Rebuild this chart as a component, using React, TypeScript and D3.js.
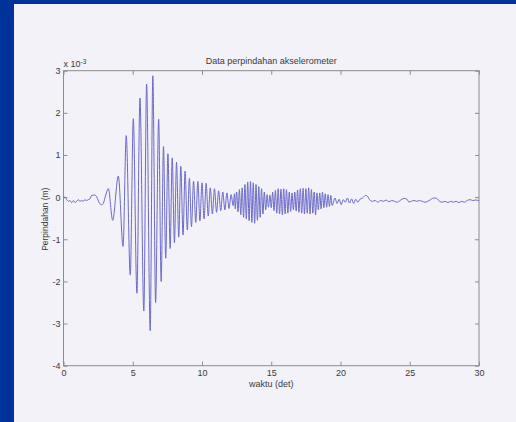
import React, { useEffect, useRef } from "react";
import * as d3 from "d3";

// displacement readings, [time (det), value x 1e-3 m]
const xTicks = [0, 5, 10, 15, 20, 25, 30];
const yTicks = [-4, -3, -2, -1, 0, 1, 2, 3];

const preEvent: [number, number][] = [
  [0, 0.0], [0.1, 0.0], [0.23, -0.06], [0.35, -0.1], [0.47, -0.08], [0.59, -0.13],
  [0.71, -0.08], [0.83, -0.13], [0.95, -0.1], [1.07, -0.06], [1.19, -0.1], [1.31, -0.08],
  [1.43, -0.1], [1.55, -0.06], [1.67, -0.08], [1.79, -0.06], [1.91, -0.04], [2.03, 0.04],
  [2.27, 0.05], [2.39, 0.01], [2.59, -0.14], [2.75, -0.18], [2.87, -0.15], [3.05, 0.05],
  [3.24, 0.2],
];

const mainShock: [number, number][] = [
  [3.55, -0.55], [3.96, 0.5], [4.3, -1.17], [4.53, 1.46], [4.82, -1.85], [5.04, 1.86],
  [5.3, -2.28], [5.52, 2.35], [5.8, -2.7], [6.0, 2.68], [6.26, -3.17], [6.45, 2.88],
  [6.65, -2.5], [6.87, 1.85], [7.05, -2.0], [7.22, 1.2], [7.38, -1.45], [7.54, 1.03],
  [7.7, -1.22], [7.85, 0.93], [8.01, -1.08], [8.16, 0.83], [8.32, -0.95], [8.47, 0.73],
  [8.63, -0.9], [8.78, 0.62], [8.94, -0.78], [9.09, 0.45], [9.24, -0.7], [9.39, 0.38],
  [9.55, -0.6], [9.7, 0.37], [9.85, -0.56], [10.0, 0.34], [10.15, -0.52], [10.3, 0.33],
  [10.45, -0.45], [10.6, 0.22], [10.75, -0.4], [10.9, 0.2], [11.05, -0.36], [11.2, 0.15],
  [11.35, -0.32], [11.5, 0.12], [11.65, -0.3], [11.8, 0.1], [11.95, -0.27], [12.1, 0.06],
  [12.25, -0.2],
];

const coda: [number, number][] = [
  [12.35, 0.08], [12.4, -0.28], [12.5, 0.12], [12.6, -0.35], [12.7, 0.18], [12.8, -0.42],
  [12.9, 0.22], [13.0, -0.48], [13.1, 0.3], [13.2, -0.52], [13.3, 0.36], [13.4, -0.56],
  [13.5, 0.37], [13.6, -0.6], [13.7, 0.34], [13.8, -0.62], [13.9, 0.3], [14.0, -0.55],
  [14.1, 0.25], [14.2, -0.48], [14.3, 0.2], [14.4, -0.4], [14.5, 0.12], [14.6, -0.3],
  [14.7, 0.06], [14.8, -0.24], [14.9, 0.05], [15.0, -0.25], [15.1, 0.12], [15.2, -0.32],
  [15.3, 0.16], [15.4, -0.38], [15.5, 0.2], [15.6, -0.4], [15.7, 0.19], [15.8, -0.42],
  [15.9, 0.2], [16.0, -0.4], [16.1, 0.18], [16.2, -0.38], [16.3, 0.12], [16.4, -0.34],
  [16.5, 0.1], [16.6, -0.3], [16.7, 0.12], [16.8, -0.33], [16.9, 0.17], [17.0, -0.36],
  [17.1, 0.2], [17.2, -0.38], [17.3, 0.21], [17.4, -0.4], [17.5, 0.2], [17.6, -0.38],
  [17.7, 0.22], [17.8, -0.4], [17.9, 0.18], [18.0, -0.38], [18.1, 0.12], [18.2, -0.42],
  [18.3, 0.1], [18.4, -0.3], [18.5, 0.1], [18.6, -0.28], [18.7, 0.12], [18.8, -0.25],
  [18.9, 0.08], [19.0, -0.24], [19.1, 0.06], [19.2, -0.22], [19.3, 0.04], [19.4, -0.2],
];

const tail: [number, number][] = [
  [19.6, -0.02], [19.75, -0.15], [19.9, -0.05], [20.05, -0.18], [20.2, -0.06], [20.35, -0.12],
  [20.5, -0.02], [20.65, -0.14], [20.8, -0.04], [20.95, -0.15], [21.1, -0.05], [21.25, -0.12],
  [21.4, -0.05], [21.6, -0.02], [21.8, 0.04], [21.95, 0.02], [22.1, -0.06], [22.3, -0.1],
  [22.5, -0.08], [22.7, -0.12], [22.9, -0.08], [23.1, -0.1], [23.3, -0.07], [23.5, -0.11],
  [23.7, -0.08], [23.9, -0.1], [24.1, -0.12], [24.3, -0.08], [24.6, -0.03], [24.8, -0.05],
  [24.95, -0.12], [25.1, -0.1], [25.3, -0.08], [25.5, -0.1], [25.7, -0.08], [25.9, -0.1],
  [26.1, -0.12], [26.3, -0.1], [26.5, -0.06], [26.75, -0.02], [26.95, -0.03], [27.15, -0.1],
  [27.35, -0.12], [27.55, -0.1], [27.75, -0.13], [27.95, -0.1], [28.15, -0.12], [28.35, -0.1],
  [28.55, -0.13], [28.75, -0.1], [28.95, -0.12], [29.15, -0.08], [29.35, -0.06], [29.55, -0.08],
  [29.75, -0.07], [30, -0.08],
];

const FONT = "'Liberation Sans', Arial, sans-serif";
const TEXT = "#3a3a3a";
const AXIS = "#8c8c8c";

const App = () => {
  const svgRef = useRef<SVGSVGElement>(null);

  useEffect(() => {
    const svg = d3.select(svgRef.current);
    svg.selectAll("*").remove();

    // slide background + scanned figure page
    svg.append("rect").attr("width", 516).attr("height", 422).attr("fill", "#003399");
    svg.append("rect").attr("x", 14).attr("y", 4).attr("width", 502).attr("height", 418).attr("fill", "#f4f2f9");

    const left = 63.5, right = 479, top = 70.7, bottom = 365.7;
    const x = d3.scaleLinear().domain([0, 30]).range([left, right]);
    const y = d3.scaleLinear().domain([-4, 3]).range([bottom, top]);
    const fmt = (d) => String(d); // MATLAB style plain ints with hyphen minus

    const styleAxis = (g) => {
      g.select(".domain").remove();
      g.selectAll("line").attr("stroke", AXIS);
      g.selectAll("text").attr("fill", TEXT).style("font-family", FONT).style("font-size", "9px");
    };

    svg.append("g")
      .attr("transform", `translate(0,${bottom})`)
      .call(d3.axisBottom(x).tickValues(xTicks).tickFormat(fmt).tickSizeInner(-4).tickSizeOuter(0).tickPadding(4))
      .call(styleAxis);
    svg.append("g")
      .attr("transform", `translate(0,${top})`)
      .call(d3.axisTop(x).tickValues(xTicks).tickSizeInner(-4).tickSizeOuter(0).tickFormat(() => ""))
      .call(styleAxis);
    svg.append("g")
      .attr("transform", `translate(${left},0)`)
      .call(d3.axisLeft(y).tickValues(yTicks).tickFormat(fmt).tickSizeInner(-4).tickSizeOuter(0).tickPadding(3))
      .call(styleAxis);
    svg.append("g")
      .attr("transform", `translate(${right},0)`)
      .call(d3.axisRight(y).tickValues(yTicks).tickSizeInner(-4).tickSizeOuter(0).tickFormat(() => ""))
      .call(styleAxis);

    // axes box
    svg.append("rect")
      .attr("x", left).attr("y", top)
      .attr("width", right - left).attr("height", bottom - top)
      .attr("fill", "none").attr("stroke", AXIS).attr("stroke-width", 1);

    // signal
    const data = [...preEvent, ...mainShock, ...coda, ...tail];
    const line = d3.line<[number, number]>()
      .x((d) => x(d[0]))
      .y((d) => y(d[1]))
      .curve(d3.curveMonotoneX);
    svg.append("path")
      .attr("d", line(data))
      .attr("fill", "none")
      .attr("stroke", "#6a6ac8")
      .attr("stroke-width", 1);

    // texts
    svg.append("text")
      .attr("x", (left + right) / 2).attr("y", 64)
      .attr("text-anchor", "middle")
      .attr("fill", TEXT).style("font-family", FONT).style("font-size", "9px")
      .text("Data perpindahan akselerometer");

    const expo = svg.append("text")
      .attr("x", left).attr("y", 67)
      .attr("fill", TEXT).style("font-family", FONT).style("font-size", "9px");
    expo.append("tspan").text("x 10");
    expo.append("tspan").attr("dy", -3.5).style("font-size", "6.5px").text("-3");

    svg.append("text")
      .attr("x", (left + right) / 2).attr("y", 387)
      .attr("text-anchor", "middle")
      .attr("fill", TEXT).style("font-family", FONT).style("font-size", "9px")
      .text("waktu (det)");

    svg.append("text")
      .attr("transform", `translate(48,${(top + bottom) / 2 + 1}) rotate(-90)`)
      .attr("text-anchor", "middle")
      .attr("fill", TEXT).style("font-family", FONT).style("font-size", "8.5px")
      .text("Perpindahan (m)");
  }, []);

  return (
    <div style={{ position: "fixed", left: 0, top: 0 }}>
      <svg ref={svgRef} width={516} height={422} style={{ display: "block" }} />
    </div>
  );
};

export default App;
